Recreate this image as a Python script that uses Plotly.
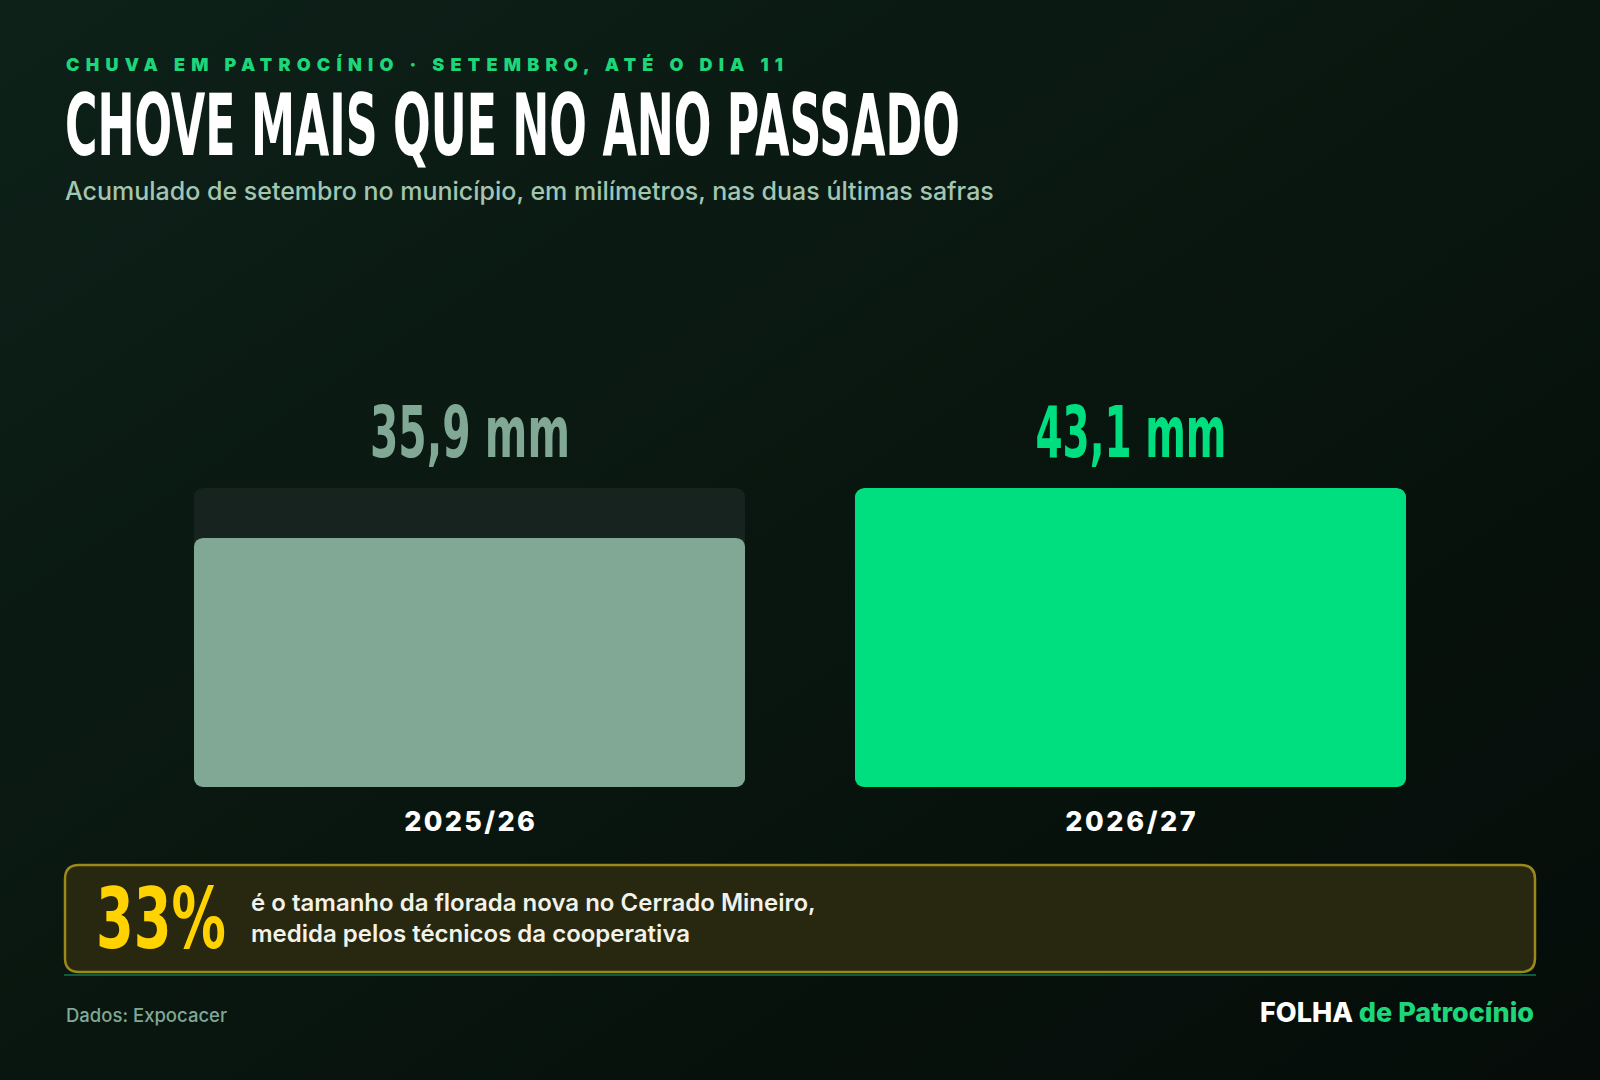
import base64
import json
import plotly.graph_objects as go

# ---- data ----
categories = ["2025/26", "2026/27"]
rain_mm = [35.9, 43.1]
value_labels = ["35,9 mm", "43,1 mm"]

kicker = "CHUVA EM PATROCÍNIO · SETEMBRO, ATÉ O DIA 11"
title = "CHOVE MAIS QUE NO ANO PASSADO"
subtitle = "Acumulado de setembro no município, em milímetros, nas duas últimas safras"
callout_value = "33%"
callout_text = "é o tamanho da florada nova no Cerrado Mineiro,<br>medida pelos técnicos da cooperativa"
source = "Dados: Expocacer"

# ---- styles ----
W, H = 1600, 1080
ML, MR, MT, MB = 139, 139, 488, 293
PW, PH = W - ML - MR, H - MT - MB
BG = "#09160f"
TRACK = "#16231e"
BAR_COLORS = ["#80a895", "#00df80"]
GREEN = "#1ed67a"
HEAVY = "DejaVu Sans, sans-serif"


def px(x):
    return (x - ML) / PW


def py(y):
    return (H - MB - y) / PH


track_max = max(rain_mm)

fig = go.Figure()
fig.add_trace(go.Bar(
    x=categories, y=[track_max] * len(categories),
    marker=dict(color=TRACK, line=dict(width=0), cornerradius=9),
    width=0.834, hoverinfo="skip", showlegend=False,
))
fig.add_trace(go.Bar(
    x=categories, y=rain_mm,
    marker=dict(color=BAR_COLORS, line=dict(width=0), cornerradius=9),
    width=0.834, hoverinfo="skip", showlegend=False,
))

annotations = []
for cat, lab, col in zip(categories, value_labels, BAR_COLORS):
    annotations.append(dict(
        x=cat, y=track_max, xref="x", yref="y", text=lab, showarrow=False,
        xanchor="center", yanchor="bottom", yshift=12,
        font=dict(family=HEAVY, size=71, color=col, weight="bold"),
    ))

annotations += [
    dict(x=px(64), y=py(64), xref="paper", yref="paper", text=kicker, showarrow=False,
         xanchor="left", yanchor="middle", align="left",
         font=dict(family="Inter", size=18, color=GREEN, weight=900)),
    dict(x=px(63), y=py(125), xref="paper", yref="paper", text=title, showarrow=False,
         xanchor="left", yanchor="middle", align="left",
         font=dict(family=HEAVY, size=85, color="#ffffff", weight="bold")),
    dict(x=px(63), y=py(191), xref="paper", yref="paper", text=subtitle, showarrow=False,
         xanchor="left", yanchor="middle", align="left",
         font=dict(family="Inter", size=25, color="#a3c6b1", weight=500)),
    dict(x=px(94), y=py(919), xref="paper", yref="paper", text=callout_value, showarrow=False,
         xanchor="left", yanchor="middle", align="left",
         font=dict(family=HEAVY, size=84, color="#ffd200", weight="bold")),
    dict(x=px(249), y=py(918), xref="paper", yref="paper", text=callout_text, showarrow=False,
         xanchor="left", yanchor="middle", align="left",
         font=dict(family="Inter", size=24, color="#f2f2ea", weight=600)),
    dict(x=px(64), y=py(1015), xref="paper", yref="paper", text=source, showarrow=False,
         xanchor="left", yanchor="middle", align="left",
         font=dict(family="Inter", size=18.5, color="#7fa896", weight=500)),
    dict(x=px(1536), y=py(1012), xref="paper", yref="paper",
         text="FOLHA <span style='color:#1ed67a'>de Patrocínio</span>", showarrow=False,
         xanchor="right", yanchor="middle",
         font=dict(family="Inter", size=27, color="#ffffff", weight=800)),
]


def rounded_rect(x0, y0, x1, y1, r):
    X0, X1 = px(x0), px(x1)
    Y0, Y1 = py(y0), py(y1)
    rx, ry = r / PW, r / PH
    return (f"M {X0+rx},{Y0} L {X1-rx},{Y0} Q {X1},{Y0} {X1},{Y0-ry} "
            f"L {X1},{Y1+ry} Q {X1},{Y1} {X1-rx},{Y1} L {X0+rx},{Y1} "
            f"Q {X0},{Y1} {X0},{Y1+ry} L {X0},{Y0-ry} Q {X0},{Y0} {X0+rx},{Y0} Z")


shapes = [
    dict(type="line", xref="paper", yref="paper", x0=px(64), x1=px(1536), y0=py(975), y1=py(975),
         line=dict(color="#0f5c3a", width=2), layer="below"),
    dict(type="path", xref="paper", yref="paper", path=rounded_rect(65, 865, 1535, 972, 14),
         fillcolor="#27280f", line=dict(color="#9c881a", width=2.5), layer="above"),
]

# background gradient as an inline svg image
bg_svg = (
    f'<svg xmlns="http://www.w3.org/2000/svg" width="{W}" height="{H}" viewBox="0 0 {W} {H}" preserveAspectRatio="none">'
    '<defs><linearGradient id="g" x1="0" y1="0" x2="1" y2="1">'
    '<stop offset="0" stop-color="#0d2119"/><stop offset="0.5" stop-color="#09160f"/>'
    '<stop offset="1" stop-color="#050c09"/></linearGradient></defs>'
    f'<rect width="{W}" height="{H}" fill="url(#g)"/></svg>'
)
bg_uri = "data:image/svg+xml;base64," + base64.b64encode(bg_svg.encode()).decode()

fig.update_layout(
    width=W, height=H,
    margin=dict(l=ML, r=MR, t=MT, b=MB, pad=0),
    paper_bgcolor=BG, plot_bgcolor="rgba(0,0,0,0)",
    barmode="overlay",
    annotations=annotations, shapes=shapes,
    images=[dict(source=bg_uri, xref="paper", yref="paper", x=px(0), y=py(0),
                 sizex=W / PW, sizey=H / PH, xanchor="left", yanchor="top",
                 sizing="stretch", layer="below")],
    xaxis=dict(range=[-0.5, 1.5], showgrid=False, zeroline=False, showline=False,
               ticks="", ticklabelstandoff=16,
               tickfont=dict(family="Inter", size=27, color="#ffffff", weight=800),
               fixedrange=True),
    yaxis=dict(range=[0, track_max], visible=False, showgrid=False, zeroline=False, fixedrange=True),
    showlegend=False,
)

# condensed display type: horizontal scale to the reference widths; letter spacing for spaced caps
condense = {
    title: [895, "left center"],
    value_labels[0]: [200, "center center"],
    value_labels[1]: [191, "center center"],
    callout_value: [130, "left center"],
}
spaced = {kicker: 717}
tick_width = 133
post = """
document.body.style.margin = '0';
document.body.style.background = '%s';
var C = %s, S = %s, TW = %d;
document.querySelectorAll('text.annotation-text').forEach(function (el) {
  var t = el.textContent;
  if (C[t]) {
    var w = el.getBBox().width;
    el.style.transformBox = 'fill-box';
    el.style.transformOrigin = C[t][1];
    el.style.transform = 'scaleX(' + (C[t][0] / w) + ')';
  } else if (S[t]) {
    var w2 = el.getBBox().width;
    el.style.letterSpacing = ((S[t] - w2) / (t.length - 1)) + 'px';
  }
});
document.querySelectorAll('g.xtick text').forEach(function (el) {
  var w = el.getBBox().width, n = el.textContent.length;
  var ls = (TW - w) / n;
  if (ls > 0) {
    el.style.letterSpacing = ls + 'px';
    el.setAttribute('dx', (ls / 2) + 'px');
  }
});
document.querySelectorAll('.barlayer .point path').forEach(function (el) {
  el.style.clipPath = 'inset(0 round 9px) fill-box';
});
""" % (BG, json.dumps(condense, ensure_ascii=False), json.dumps(spaced, ensure_ascii=False), tick_width)

fig.write_html("out.html", config={"displayModeBar": False, "responsive": False}, post_script=post)
